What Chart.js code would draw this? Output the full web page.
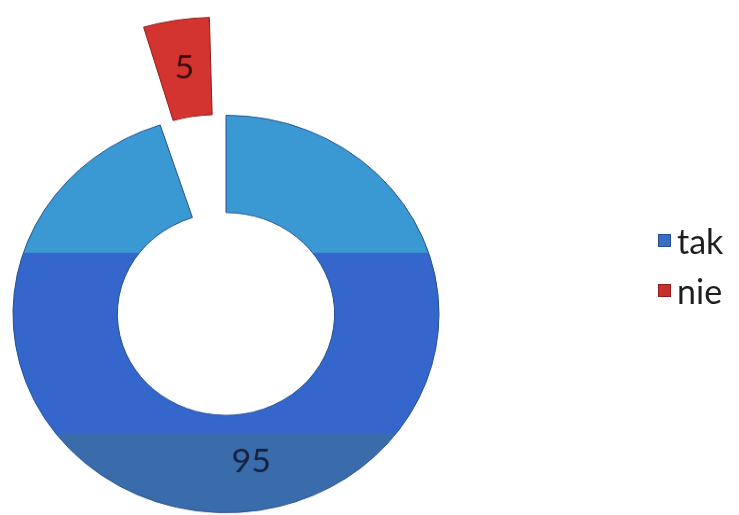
<!DOCTYPE html>
<html><head><meta charset="utf-8">
<script src="https://cdn.jsdelivr.net/npm/chart.js@4.4.1/dist/chart.umd.min.js"></script>
<style>
html,body{margin:0;padding:0;background:#fff;}
#wrap{position:relative;width:739px;height:515px;overflow:hidden;background:#fff;}
#c{position:absolute;left:0;top:0;transform:scaleY(0.933);transform-origin:0 0;}
#legend{position:absolute;left:658px;top:222px;margin:0;padding:0;list-style:none;font-family:Lato,'Open Sans',sans-serif;font-size:34px;color:#1e1e1e;}
#legend li{display:flex;align-items:center;height:36px;margin-bottom:14px;white-space:nowrap;}
#legend .box{width:13px;height:13px;margin-right:6px;box-sizing:border-box;border:1px solid;}
</style></head>
<body><div id="wrap"><canvas id="c" width="739" height="552"></canvas><ul id="legend"></ul></div>
<script>
const categories = ['tak', 'nie'];
const values = [95, 5];
const offsets = [0, 250];
const labelColors = ['#14223d', '#3a0d0d'];
const legendColors = ['#3a6ec2', '#c8302d'];
const legendBorders = ['#27508e', '#8d1d1b'];

function blueFill(c) {
  const g = c.chart.ctx.createLinearGradient(0, 0, 0, 552);
  g.addColorStop(0, '#3a98d2');
  g.addColorStop(0.49, '#3a98d2');
  g.addColorStop(0.492, '#3466cb');
  g.addColorStop(0.84, '#3466cb');
  g.addColorStop(0.842, '#3a6bab');
  g.addColorStop(1, '#3a6bab');
  return g;
}

const valueLabels = {
  id: 'valueLabels',
  afterDatasetsDraw(chart) {
    const meta = chart.getDatasetMeta(0);
    const ctx = chart.ctx;
    ctx.save();
    ctx.font = '34px Lato, "Open Sans", sans-serif';
    ctx.textAlign = 'center';
    ctx.textBaseline = 'middle';
    meta.data.forEach((arc, i) => {
      const p = arc.getProps(['x', 'y', 'startAngle', 'endAngle', 'innerRadius', 'outerRadius', 'circumference']);
      const off = (arc.options.offset || 0) / 4;
      const fix = 1 - Math.sin(Math.min(Math.PI, p.circumference));
      const mid = (p.startAngle + p.endAngle) / 2;
      const r = off + off * fix + (p.innerRadius + p.outerRadius) / 2;
      ctx.fillStyle = labelColors[i];
      ctx.fillText(String(values[i]), p.x + Math.cos(mid) * r, p.y + Math.sin(mid) * r);
    });
    ctx.restore();
  }
};

const htmlLegend = {
  id: 'htmlLegend',
  afterUpdate(chart) {
    const ul = document.getElementById('legend');
    ul.innerHTML = '';
    chart.data.labels.forEach((lab, i) => {
      const li = document.createElement('li');
      const box = document.createElement('span');
      box.className = 'box';
      box.style.background = legendColors[i];
      box.style.borderColor = legendBorders[i];
      const t = document.createElement('span');
      t.textContent = lab;
      li.appendChild(box); li.appendChild(t);
      ul.appendChild(li);
    });
  }
};

new Chart(document.getElementById('c'), {
  type: 'doughnut',
  data: {
    labels: categories,
    datasets: [{
      data: values,
      backgroundColor: (c) => c.dataIndex === 1 ? '#d3342f' : blueFill(c),
      borderColor: ['#24508f', '#8f1c1c'],
      borderWidth: 1,
      offset: offsets,
      clip: false
    }]
  },
  options: {
    responsive: false,
    animation: false,
    cutout: '51%',
    radius: 213,
    layout: { padding: { left: 0, right: 287, top: 121, bottom: 0 } },
    plugins: { legend: { display: false }, tooltip: { enabled: false } }
  },
  plugins: [valueLabels, htmlLegend]
});
</script>
</body></html>
